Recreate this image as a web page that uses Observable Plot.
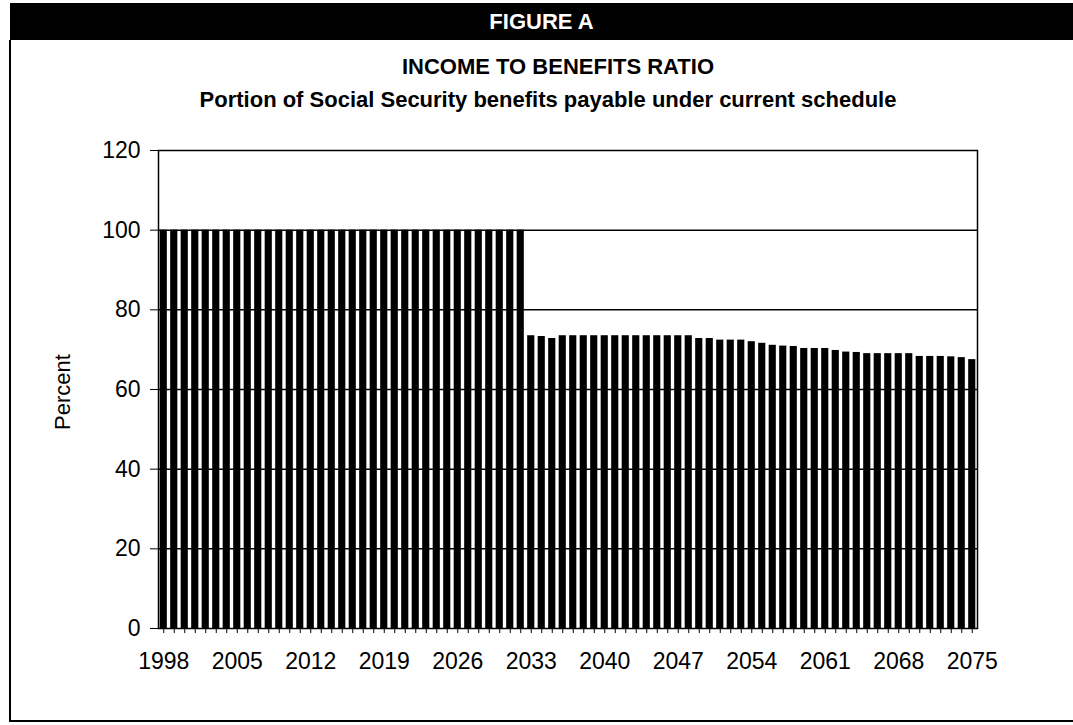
<!DOCTYPE html>
<html>
<head>
<meta charset="utf-8">
<script src="https://cdn.jsdelivr.net/npm/d3@7"></script>
<script src="https://cdn.jsdelivr.net/npm/@observablehq/plot@0.6"></script>
<style>
  body { margin: 0; background: #fff; }
  #wrap { position: relative; width: 1073px; height: 725px; font-family: "Liberation Sans", Arial, sans-serif; color: #000; overflow: hidden; }
  #wrap svg { position: absolute; left: 0; top: 0; }
  .abs { position: absolute; }
  #band { left: 10px; top: 3px; width: 1063px; height: 37px; background: #000; color: #fff; font-weight: bold; font-size: 22px; line-height: 37px; text-align: center; }
  .title { font-weight: bold; font-size: 22px; white-space: nowrap; transform: translateX(-50%); }
  #ylab { font-size: 22px; white-space: nowrap; transform: translate(-50%, -50%) rotate(-90deg); }
</style>
</head>
<body>
<div id="wrap">
  <div id="chart"></div>
  <div id="band" class="abs">FIGURE A</div>
  <div class="abs" style="left:9px;top:40px;width:2px;height:682px;background:#000"></div>
  <div class="abs" style="left:9px;top:720px;width:1064px;height:2px;background:#000"></div>
  <div class="abs title" style="left:558px;top:54px">INCOME TO BENEFITS RATIO</div>
  <div class="abs title" style="left:548px;top:87px">Portion of Social Security benefits payable under current schedule</div>
  <div class="abs" id="ylab" style="left:63px;top:392px">Percent</div>
</div>
<script>
const years = [1998,1999,2000,2001,2002,2003,2004,2005,2006,2007,2008,2009,2010,2011,2012,2013,2014,2015,2016,2017,2018,2019,2020,2021,2022,2023,2024,2025,2026,2027,2028,2029,2030,2031,2032,2033,2034,2035,2036,2037,2038,2039,2040,2041,2042,2043,2044,2045,2046,2047,2048,2049,2050,2051,2052,2053,2054,2055,2056,2057,2058,2059,2060,2061,2062,2063,2064,2065,2066,2067,2068,2069,2070,2071,2072,2073,2074,2075];
const percentPayable = [
  100,100,100,100,100,100,100,100,100,100,100,100,100,100,100,100,100,100,100,100,100,100,100,100,100,100,100,100,100,100,100,100,100,100,100,
  73.5,73.3,72.8,73.5,73.5,73.5,73.5,73.5,73.5,73.5,73.5,73.5,73.5,73.5,73.5,73.5,72.8,72.8,72.4,72.4,72.4,72.0,71.6,71.1,70.9,70.8,70.3,70.3,70.3,69.8,69.4,69.3,69.0,69.0,69.0,69.0,69.0,68.3,68.3,68.3,68.2,68.0,67.5
];
const yTicks = [0,20,40,60,80,100,120];
const gridValues = [20,40,60,80,100];
const xLabelYears = [1998,2005,2012,2019,2026,2033,2040,2047,2054,2061,2068,2075];

const data = years.map((year, i) => ({year, value: percentPayable[i]}));

const chart = Plot.plot({
  width: 1073,
  height: 725,
  marginTop: 150,
  marginBottom: 97,
  marginLeft: 158,
  marginRight: 96,
  style: {fontFamily: "'Liberation Sans', Arial, sans-serif", fontSize: "23px", color: "black", background: "transparent"},
  x: {type: "band", domain: years, paddingInner: 0.32, paddingOuter: 0.16},
  y: {domain: [0, 120]},
  marks: [
    Plot.ruleY(gridValues, {stroke: "black", strokeWidth: 1.5}),
    Plot.barY(data, {x: "year", y: "value", fill: "black"}),
    Plot.frame({stroke: "black", strokeWidth: 1.5}),
    Plot.axisY(yTicks, {tickSize: 8, tickPadding: 10, label: null}),
    Plot.axisX(years, {tickSize: 5, tickFormat: () => "", label: null}),
    Plot.axisX(xLabelYears, {tickSize: 0, tickPadding: 24, label: null, tickFormat: d => String(d)})
  ]
});
document.getElementById("chart").appendChild(chart);
</script>
</body>
</html>
